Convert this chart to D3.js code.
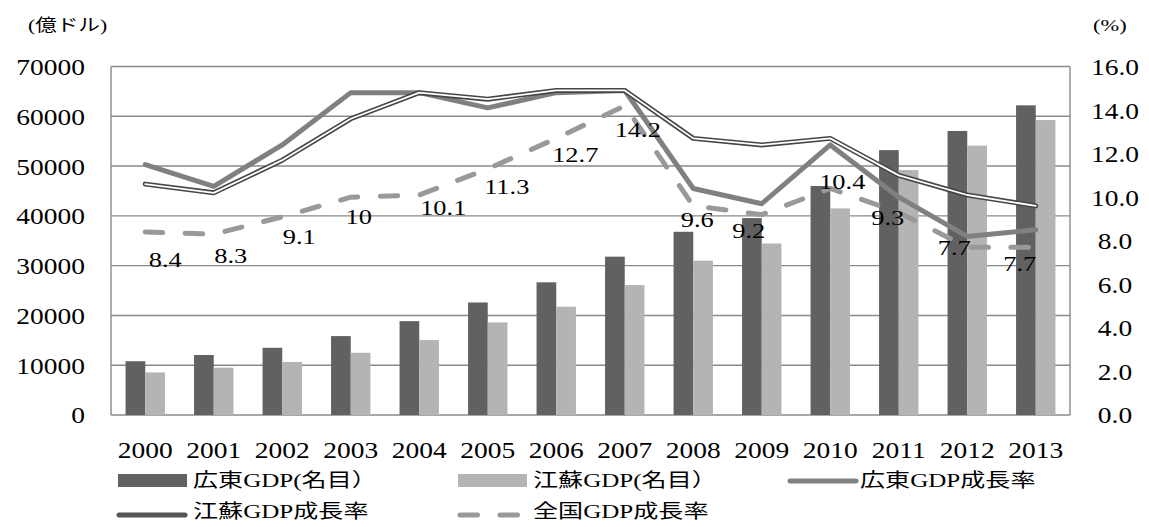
<!DOCTYPE html>
<html>
<head>
<meta charset="utf-8">
<script src="https://cdn.jsdelivr.net/npm/d3@7"></script>
<style>
  body { margin: 0; background: #fff; }
  svg { display: block; }
  text { font-family: "Liberation Serif", "Noto Sans CJK JP", serif; fill: #000; }
</style>
</head>
<body>
<svg id="chart" width="1149" height="527"></svg>
<script>
// ---- data ----
const years = ["2000","2001","2002","2003","2004","2005","2006","2007","2008","2009","2010","2011","2012","2013"];
// nominal GDP, 100 million USD
const gdpGuangdong = [10800, 12050, 13500, 15850, 18850, 22600, 26650, 31800, 36800, 39550, 46000, 53200, 57050, 62200];
const gdpJiangsu   = [8550, 9500, 10650, 12500, 15050, 18600, 21750, 26100, 31000, 34450, 41500, 49200, 54100, 59250];
// real growth rate, %
const growthGuangdong = [11.5, 10.5, 12.4, 14.8, 14.8, 14.1, 14.8, 14.9, 10.4, 9.7, 12.4, 10.0, 8.2, 8.5];
const growthJiangsu   = [10.6, 10.2, 11.7, 13.6, 14.8, 14.5, 14.9, 14.9, 12.7, 12.4, 12.7, 11.0, 10.1, 9.6];
const growthNational  = [8.4, 8.3, 9.1, 10.0, 10.1, 11.3, 12.7, 14.2, 9.6, 9.2, 10.4, 9.3, 7.7, 7.7];
const leftTicks  = [0, 10000, 20000, 30000, 40000, 50000, 60000, 70000];
const rightTicks = [0, 2, 4, 6, 8, 10, 12, 14, 16];
const legendLabels = ["広東GDP(名目）", "江蘇GDP(名目）", "広東GDP成長率", "江蘇GDP成長率", "全国GDP成長率"];
const unitLeft = "(億ドル)";
const unitRight = "(%)";

// ---- layout ----
const plot = { left: 111, right: 1070, top: 66.5, bottom: 415 };
// hand-placed offsets for the national growth labels, keeping them clear of the lines
const labelNudge = [[20,27],[17,21],[17,20],[8,19],[24,13],[19,18],[19,16],[13,24],[4,14],[-13,16],[12,-7],[-11,5],[-13,0],[-16,16]];

const colGd = "#616161", colJs = "#b4b4b4", colGrid = "#8a8a8a";
const svg = d3.select("#chart");

// widen glyphs horizontally around each text's own anchor point
function stretchText(sel, k) {
  sel.each(function () {
    const t = d3.select(this);
    const tx = +t.attr("x") || 0, ty = +t.attr("y") || 0;
    t.attr("x", null).attr("y", null).attr("transform", `translate(${tx},${ty}) scale(${k},1)`);
  });
}

const x = d3.scaleBand().domain(years).range([plot.left, plot.right]).padding(0);
const yL = d3.scaleLinear().domain([0, 70000]).range([plot.bottom, plot.top]);
const yR = d3.scaleLinear().domain([0, 16]).range([plot.bottom, plot.top]);
const groupW = x.bandwidth() * 0.575;
const xs = d3.scaleBand().domain(["gd","js"]).range([0, groupW]).padding(0);
const cx = d => x(d) + x.bandwidth() / 2;

// gridlines
svg.append("g").selectAll("line").data(leftTicks).join("line")
  .attr("x1", plot.left).attr("x2", plot.right)
  .attr("y1", d => yL(d)).attr("y2", d => yL(d))
  .attr("stroke", colGrid).attr("stroke-width", 1.4);
// side borders
svg.append("g").selectAll("line").data([plot.left, plot.right]).join("line")
  .attr("x1", d => d).attr("x2", d => d)
  .attr("y1", plot.top).attr("y2", plot.bottom)
  .attr("stroke", colGrid).attr("stroke-width", 1.4);

// bars
const barG = svg.append("g");
barG.selectAll("rect.gd").data(years).join("rect").attr("class","gd")
  .attr("x", d => cx(d) - groupW / 2 + xs("gd"))
  .attr("width", xs.bandwidth())
  .attr("y", (d, i) => yL(gdpGuangdong[i]))
  .attr("height", (d, i) => yL(0) - yL(gdpGuangdong[i]))
  .attr("fill", colGd);
barG.selectAll("rect.js").data(years).join("rect").attr("class","js")
  .attr("x", d => cx(d) - groupW / 2 + xs("js"))
  .attr("width", xs.bandwidth())
  .attr("y", (d, i) => yL(gdpJiangsu[i]))
  .attr("height", (d, i) => yL(0) - yL(gdpJiangsu[i]))
  .attr("fill", colJs);

// lines
const line = vals => d3.line().x((d, i) => cx(years[i])).y(d => yR(d))(vals);
svg.append("path").attr("d", line(growthNational))
  .attr("fill", "none").attr("stroke", "#999999").attr("stroke-width", 5)
  .attr("stroke-dasharray", "17.5,22.5").attr("stroke-linecap", "round").attr("stroke-linejoin", "round");
svg.append("path").attr("d", line(growthGuangdong))
  .attr("fill", "none").attr("stroke", "#808080").attr("stroke-width", 5)
  .attr("stroke-linecap", "round").attr("stroke-linejoin", "round");
svg.append("path").attr("d", line(growthJiangsu))
  .attr("fill", "none").attr("stroke", "#454545").attr("stroke-width", 5)
  .attr("stroke-linecap", "round").attr("stroke-linejoin", "round");
svg.append("path").attr("d", line(growthJiangsu))
  .attr("fill", "none").attr("stroke", "#ffffff").attr("stroke-width", 1.8)
  .attr("stroke-linecap", "round").attr("stroke-linejoin", "round");

// national growth labels
const vlabels = svg.append("g").selectAll("text").data(growthNational).join("text")
  .attr("x", (d, i) => cx(years[i]) + labelNudge[i][0])
  .attr("y", (d, i) => yR(d) + labelNudge[i][1])
  .attr("dy", "0.34em").attr("text-anchor", "middle")
  .attr("font-size", 22)
  .text(d => d3.format("")(d));
stretchText(vlabels, 1.2);

// axes
const axL = svg.append("g").attr("transform", `translate(${plot.left},0)`)
  .call(d3.axisLeft(yL).tickValues(leftTicks).tickSize(0).tickPadding(26).tickFormat(d3.format("d")));
const axR = svg.append("g").attr("transform", `translate(${plot.right},0)`)
  .call(d3.axisRight(yR).tickValues(rightTicks).tickSize(0).tickFormat(d3.format(".1f")));
const axB = svg.append("g").attr("transform", `translate(0,${plot.bottom})`)
  .call(d3.axisBottom(x).tickSize(0));
[axL, axR, axB].forEach(a => {
  a.select(".domain").remove();
  a.selectAll("text").attr("font-size", 23.5).attr("font-family", null).attr("fill", "#000");
});
axL.selectAll("text").attr("dy", "0.34em");
axR.selectAll("text").attr("x", 45).attr("dy", "0.34em").attr("text-anchor", "middle");
axB.selectAll("text").attr("y", 35).attr("dy", "0.34em");
[axL, axR, axB].forEach(a => stretchText(a.selectAll("text"), 1.17));

// unit captions
svg.append("text").attr("transform", `translate(28,25) scale(1.27,1)`)
  .attr("dy", "0.36em").attr("font-size", 17).text(unitLeft);
svg.append("text").attr("transform", `translate(1093,25) scale(1.32,1)`)
  .attr("dy", "0.36em").attr("font-size", 17).text(unitRight);

// legend
const legendItems = [
  { label: legendLabels[0], kind: "bar",  fill: colGd, sx: 118, tx: 193, y: 481, ty: 481 },
  { label: legendLabels[1], kind: "bar",  fill: colJs, sx: 458, tx: 533, y: 481, ty: 481 },
  { label: legendLabels[2], kind: "line", stroke: "#808080", sx: 790, tx: 860, y: 481, ty: 481 },
  { label: legendLabels[3], kind: "line", stroke: "#555555", sx: 119, tx: 193, y: 515, ty: 512 },
  { label: legendLabels[4], kind: "dash", stroke: "#999999", sx: 460, tx: 533, y: 515, ty: 512 }
];
const lg = svg.append("g");
legendItems.forEach(it => {
  if (it.kind === "bar") {
    lg.append("rect").attr("x", it.sx).attr("y", it.y - 7).attr("width", 69).attr("height", 13).attr("fill", it.fill);
  } else {
    const l = lg.append("line").attr("x1", it.sx).attr("x2", it.sx + 66)
      .attr("y1", it.y).attr("y2", it.y)
      .attr("stroke", it.stroke).attr("stroke-width", 5).attr("stroke-linecap", "round");
    if (it.kind === "dash") l.attr("stroke-dasharray", "17.5,22.5");
  }
  lg.append("text").attr("transform", `translate(${it.tx},${it.ty}) scale(1.32,1)`)
    .attr("dy", "0.34em").attr("font-size", 19).text(it.label);
});
</script>
</body>
</html>
